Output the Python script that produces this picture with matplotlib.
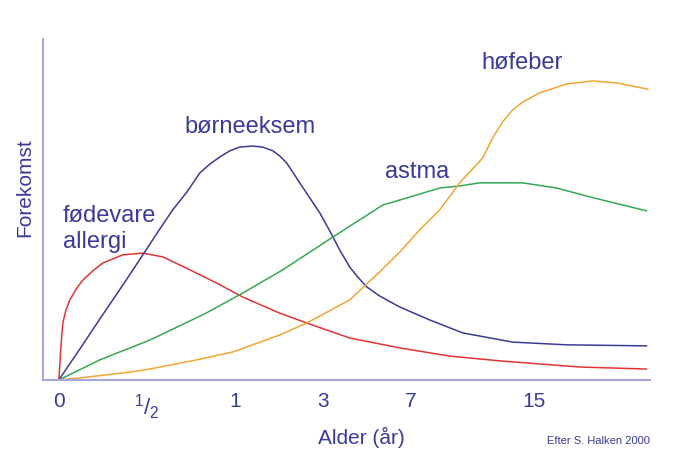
import numpy as np
import matplotlib.pyplot as plt

plt.rcParams['font.family'] = ['Liberation Sans', 'DejaVu Sans']
plt.rcParams['mathtext.fontset'] = 'custom'
plt.rcParams['mathtext.rm'] = 'Liberation Sans'
plt.rcParams['mathtext.it'] = 'Liberation Sans'

# x is position along the (non-linear) age axis, one unit per tick step
tick_pos = [0, 1, 2, 3, 4, 5.4]
tick_labels = ['0', r'$^{1}/_{2}$', '1', '3', '7', '15']

food_x = [0, 0.011, 0.023, 0.045, 0.08, 0.125, 0.205, 0.273, 0.386, 0.5, 0.727, 0.955,
          1.182, 1.489, 1.795, 2.091, 2.511, 2.818, 3.307, 3.875, 4.443, 5.011, 5.92, 6.68]
food_y = [0, 4.4, 9.7, 16.7, 20.5, 23.5, 27.0, 29.3, 32.0, 34.3, 36.7, 37.2,
          36.1, 32.3, 28.4, 24.3, 19.6, 16.7, 12.3, 9.4, 7.0, 5.6, 3.8, 3.2]

eczema_x = [0, 0.239, 0.466, 0.75, 0.955, 1.148, 1.295, 1.455, 1.602, 1.716, 1.83, 1.943,
            2.057, 2.205, 2.318, 2.432, 2.511, 2.591, 2.739, 2.852, 2.966, 3.08, 3.193,
            3.307, 3.398, 3.5, 3.648, 3.875, 4.216, 4.591, 5.159, 5.773, 6.68]
eczema_y = [0, 9.1, 17.9, 28.7, 36.7, 44.3, 49.9, 55.1, 60.7, 63.3, 65.4, 67.2,
            68.3, 68.6, 68.3, 67.2, 65.7, 63.6, 57.8, 53.4, 49.0, 43.7, 38.1,
            33.1, 30.2, 27.3, 24.6, 21.4, 17.6, 13.8, 11.1, 10.3, 10.0]

asthma_x = [0, 0.466, 1.034, 1.659, 2.091, 2.545, 3.114, 3.682, 4.023, 4.33, 4.557,
            4.784, 5.273, 5.659, 6.034, 6.68]
asthma_y = [0, 5.9, 11.7, 19.4, 25.5, 32.3, 41.9, 51.3, 53.9, 56.3, 56.9,
            57.8, 57.8, 56.3, 53.7, 49.6]

hay_x = [0, 0.239, 0.807, 1.034, 1.568, 1.977, 2.511, 2.818, 3.307, 3.648, 3.875, 4.102,
         4.33, 4.557, 4.818, 4.932, 5.045, 5.159, 5.273, 5.466, 5.773, 6.068, 6.341, 6.693]
hay_y = [0, 0.6, 2.3, 3.2, 5.9, 8.2, 13.2, 16.7, 23.5, 31.7, 37.5, 44.0,
         49.9, 57.8, 65.1, 71.0, 75.7, 79.2, 81.5, 84.2, 86.8, 87.7, 87.1, 85.3]

navy = '#3a3a9a'
spine_col = '#a8a8d8'

fig = plt.figure(figsize=(6.94, 4.72), dpi=100)
ax = fig.add_axes([0.062, 0.195, 0.8746, 0.7224])

ax.plot(food_x, food_y, color='#e03535', lw=1.1)
ax.plot(eczema_x, eczema_y, color='#3b3b95', lw=1.1)
ax.plot(asthma_x, asthma_y, color='#35a855', lw=1.1)
ax.plot(hay_x, hay_y, color='#f0a535', lw=1.1)

ax.text(0.045, 44.3, 'fødevare\nallergi', color=navy, fontsize=17, ha='left', va='center',
        linespacing=1.2)
ax.text(1.432, 74.2, 'børneeksem', color=navy, fontsize=17, ha='left', va='center')
ax.text(3.705, 61.0, 'astma', color=navy, fontsize=17, ha='left', va='center')
ax.text(4.807, 93.0, 'høfeber', color=navy, fontsize=17, ha='left', va='center')

ax.set_xlim(-0.18, 6.72)
ax.set_ylim(0, 100)
ax.set_xticks(tick_pos)
ax.set_xticklabels(tick_labels)
ax.set_yticks([])
ax.tick_params(axis='x', length=0, pad=9, labelsize=15, labelcolor=navy)
ax.get_xticklabels()[1].set_fontsize(16)
for s in ['top', 'right']:
    ax.spines[s].set_visible(False)
for s in ['left', 'bottom']:
    ax.spines[s].set_color(spine_col)
    ax.spines[s].set_linewidth(1.5)

fig.text(0.036, 0.602, 'Forekomst', rotation=90, color=navy, fontsize=15, ha='center', va='center')
fig.text(0.520, 0.074, 'Alder (år)', color=navy, fontsize=15, ha='center', va='center')
fig.text(0.9366, 0.066, 'Efter S. Halken 2000', color=navy, fontsize=8, ha='right', va='center')

fig.savefig('out.png', dpi=100)
